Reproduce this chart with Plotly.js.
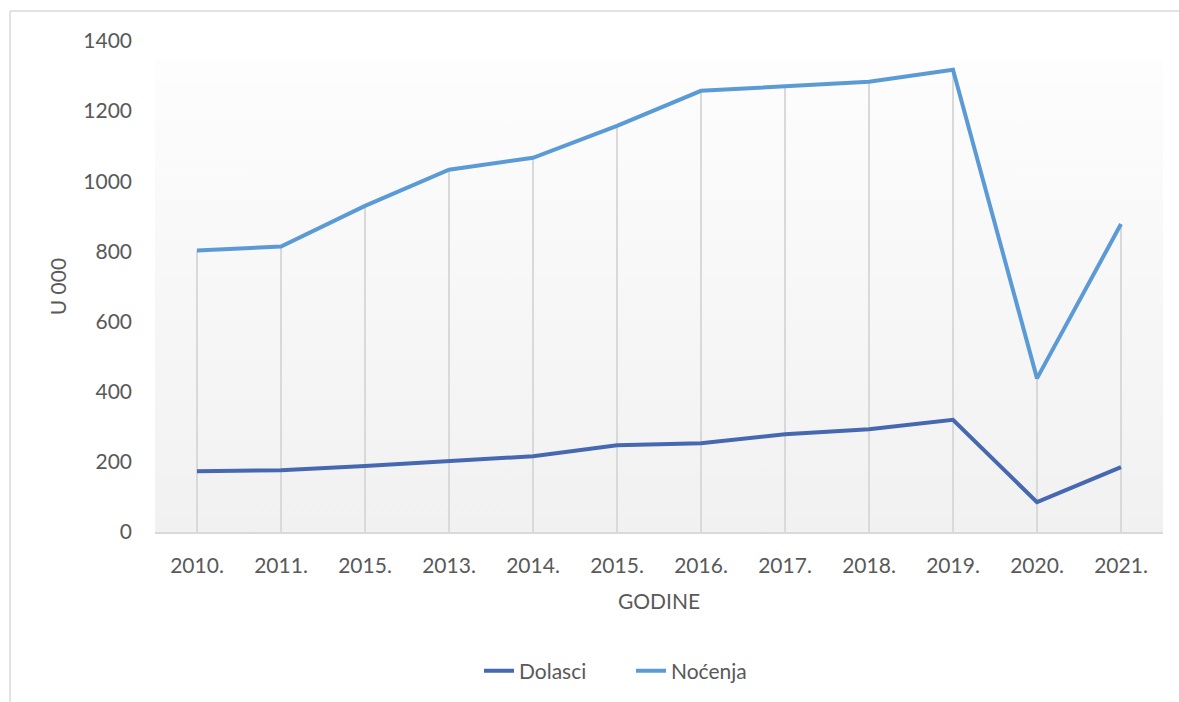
<!DOCTYPE html>
<html>
<head>
<meta charset="utf-8">
<script src="https://cdn.plot.ly/plotly-3.0.1.min.js"></script>
<style>html,body{margin:0;padding:0;background:#fff;}#chart{width:1179px;height:702px;}</style>
</head>
<body>
<div id="chart"></div>
<script>
const years = ["2010.", "2011.", "2015.", "2013.", "2014.", "2015.", "2016.", "2017.", "2018.", "2019.", "2020.", "2021."];
const dolasci = [173, 176, 188, 202, 216, 247, 253, 279, 293, 320, 85, 185];
const nocenja = [803, 814, 930, 1033, 1067, 1158, 1258, 1272, 1284, 1318, 438, 878];
const seriesNames = ["Dolasci", "Noćenja"];
const yTitle = "U 000";
const xTitle = "GODINE";

const idx = years.map((_, i) => i);
const fontFam = "Lato, 'Open Sans', sans-serif";
const txt = "#595959";

const gradSvg = '<svg xmlns="http://www.w3.org/2000/svg" width="100" height="100" preserveAspectRatio="none">' +
  '<defs><linearGradient id="g" x1="0" y1="0" x2="0" y2="1"><stop offset="0" stop-color="#fdfdfd"/><stop offset="1" stop-color="#f1f1f1"/></linearGradient></defs>' +
  '<rect width="100" height="100" fill="url(#g)"/></svg>';
const gradUri = "data:image/svg+xml;charset=utf-8," + encodeURIComponent(gradSvg);

const traces = [
  {
    x: idx, y: nocenja, type: "scatter", mode: "markers",
    marker: {size: 1, opacity: 0},
    error_y: {type: "data", symmetric: false, array: nocenja.map(() => 0), arrayminus: nocenja,
              width: 0, thickness: 2, color: "#d9d9d9"},
    showlegend: false, hoverinfo: "skip"
  },
  {
    x: idx, y: dolasci, type: "scatter", mode: "lines", name: seriesNames[0],
    line: {color: "#4668B0", width: 4}
  },
  {
    x: idx, y: nocenja, type: "scatter", mode: "lines", name: seriesNames[1],
    line: {color: "#5B9BD5", width: 4}
  }
];

const L = 155, R = 1163, T = 41, B = 533;
const W = R - L, H = B - T;
const px = v => (v - L) / W;
const py = v => (B - v) / H;

const layout = {
  width: 1179, height: 702,
  margin: {l: L, r: 1179 - R, t: T, b: 702 - B, pad: 0},
  paper_bgcolor: "#ffffff",
  plot_bgcolor: "rgba(0,0,0,0)",
  font: {family: fontFam, size: 21, color: txt},
  showlegend: true,
  legend: {orientation: "h", x: px(479), xanchor: "left", y: py(671), yanchor: "middle",
           font: {family: fontFam, size: 21, color: txt}, bgcolor: "rgba(0,0,0,0)",
           entrywidth: 107, entrywidthmode: "pixels"},
  xaxis: {
    range: [-0.5, years.length - 0.5], tickmode: "array", tickvals: idx, ticktext: years,
    showgrid: false, zeroline: false, showline: true, linecolor: "#d9d9d9", linewidth: 1.5,
    ticks: "", ticklabelstandoff: 14, tickfont: {family: fontFam, size: 21, color: txt},
    title: {text: xTitle, font: {family: fontFam, size: 21, color: txt}, standoff: 18},
    fixedrange: true
  },
  yaxis: {
    range: [0, 1400], tickmode: "linear", tick0: 0, dtick: 200,
    showgrid: false, zeroline: false, showline: false, ticks: "",
    ticklabelstandoff: 22, tickfont: {family: fontFam, size: 21, color: txt},
    title: {text: yTitle, font: {family: fontFam, size: 21, color: txt}, standoff: 10},
    fixedrange: true
  },
  images: [{
    source: gradUri, xref: "paper", yref: "paper", x: 0, y: py(60), sizex: 1, sizey: py(60),
    xanchor: "left", yanchor: "top", sizing: "stretch", layer: "below"
  }],
  shapes: [
    {type: "line", xref: "paper", yref: "paper", x0: px(10), x1: px(1185), y0: py(11), y1: py(11),
     line: {color: "#d9d9d9", width: 1.5}},
    {type: "line", xref: "paper", yref: "paper", x0: px(10), x1: px(10), y0: py(11), y1: py(710),
     line: {color: "#d9d9d9", width: 1.5}}
  ]
};

Plotly.newPlot("chart", traces, layout, {displayModeBar: false, staticPlot: true});
</script>
</body>
</html>
